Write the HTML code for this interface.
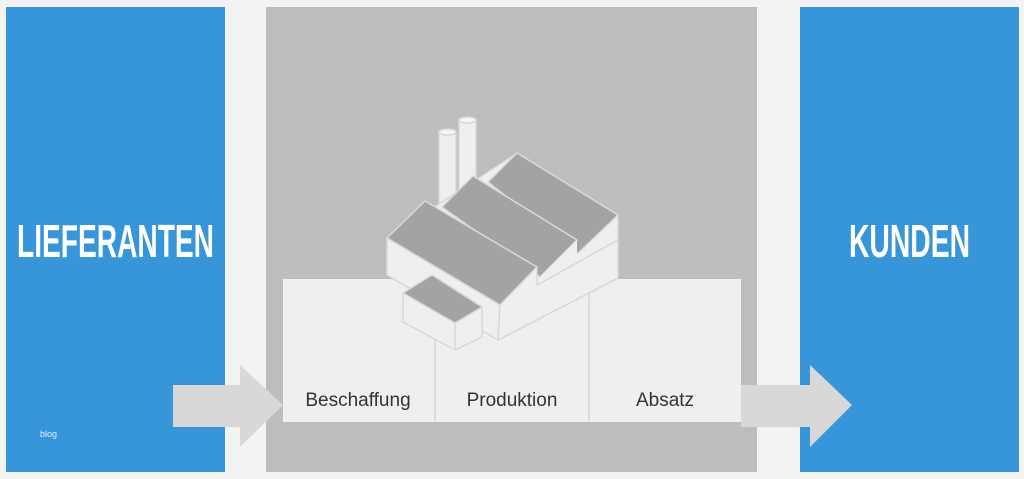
<!DOCTYPE html>
<html><head><meta charset="utf-8"><style>
html,body{margin:0;padding:0;background:#f2f2f2;}
svg{display:block}
</style></head><body>
<svg width="1024" height="479" viewBox="0 0 1024 479" xmlns="http://www.w3.org/2000/svg">
<rect x="0" y="0" width="1024" height="479" fill="#f3f3f3"/>
<rect x="6" y="7" width="219" height="465" fill="#3795da"/>
<rect x="800" y="7" width="219" height="465" fill="#3795da"/>
<rect x="266" y="7" width="491" height="465" fill="#bdbdbd"/>
<!-- boxes -->
<rect x="283" y="279" width="458" height="143" fill="#efefef"/>
<line x1="435" y1="290" x2="435" y2="422" stroke="#d6d6d6" stroke-width="1.5"/>
<line x1="589" y1="287" x2="589" y2="422" stroke="#d6d6d6" stroke-width="1.5"/>
<!-- arrows -->
<polygon points="173,385 240,385 240,365 283,405 240,447 240,427 173,427" fill="#d8d8d8"/>
<polygon points="741,385 810,385 810,365 852,405 810,447 810,427 741,427" fill="#d8d8d8"/>
<!-- factory -->
<g stroke="#d8d8d8" stroke-width="1.5" stroke-linejoin="round">
<rect x="439" y="131" width="17" height="80" fill="#efefef"/>
<ellipse cx="447.5" cy="132" rx="8.5" ry="3" fill="#f6f6f6"/>
<rect x="459" y="119" width="17" height="80" fill="#efefef"/>
<ellipse cx="467.5" cy="120" rx="8.5" ry="3" fill="#f6f6f6"/>
<!-- body walls -->
<polygon points="387,238 387,275 498,340 618,278 618,215 517,153 387,238" fill="#efefef"/>
<!-- roof3 -->
<polygon points="488,182 517,153 618,215 578,253" fill="#a3a3a3"/>
<!-- roof2 -->
<polygon points="442,207 473,176 577,240 540,277" fill="#a3a3a3"/>
<polygon points="540,277 577,240 577,260 540,282" fill="#efefef" stroke="none"/>
<!-- roof1 -->
<polygon points="387,238 425,201 537,267 500,305" fill="#a3a3a3"/>
<polygon points="387,238 500,305 498,340 387,275" fill="#efefef"/>
<polygon points="500,305 537,267 537,285 618,240 618,278 498,340" fill="#efefef"/>
<!-- small box -->
<polygon points="403,293 403,322 455,350 482,337 482,307 432,275" fill="#efefef"/>
<polygon points="403,293 432,275 482,307 455,323" fill="#a3a3a3"/>
<line x1="455" y1="323" x2="455" y2="350"/>
</g>
<g font-family="Liberation Sans, sans-serif" fill="#333" font-size="19" text-anchor="middle">
<text x="358" y="406">Beschaffung</text>
<text x="512" y="406">Produktion</text>
<text x="665" y="406">Absatz</text>
</g>
<g font-family="Liberation Sans, sans-serif" font-weight="bold" fill="#fff" font-size="46">
<text x="17" y="257" textLength="197" lengthAdjust="spacingAndGlyphs">LIEFERANTEN</text>
<text x="849" y="257" textLength="121" lengthAdjust="spacingAndGlyphs">KUNDEN</text>
</g>
<text x="40" y="437" font-family="Liberation Sans, sans-serif" font-size="9" fill="#e8f0f8">blog</text>
</svg>
</body></html>
